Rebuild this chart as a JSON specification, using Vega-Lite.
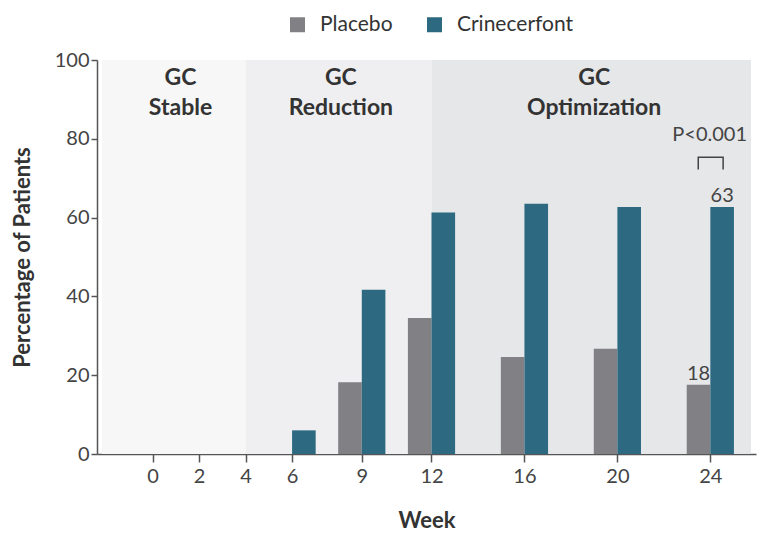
{
  "$schema": "https://vega.github.io/schema/vega-lite/v6.json",
  "width": 659,
  "height": 394,
  "autosize": {"type": "none"},
  "padding": {"left": 97, "top": 60, "right": 1, "bottom": 81},
  "background": "white",
  "config": {
    "font": "Lato",
    "view": {"stroke": null},
    "axis": {
      "grid": false,
      "domainColor": "#555555",
      "domainWidth": 1.5,
      "tickColor": "#555555",
      "tickWidth": 1.5,
      "labelColor": "#444444",
      "labelFontSize": 20,
      "labelFont": "Lato",
      "titleColor": "#333333",
      "titleFontSize": 22,
      "titleFontWeight": "bold",
      "titleFont": "Lato"
    },
    "legend": {"labelFont": "Lato"}
  },
  "datasets": {
    "phases": [
      {"phase": "Stable", "label": ["GC", "Stable"], "start": -2.18, "end": 4, "labelWeek": 1.2},
      {"phase": "Reduction", "label": ["GC", "Reduction"], "start": 4, "end": 12, "labelWeek": 8.1},
      {"phase": "Optimization", "label": ["GC", "Optimization"], "start": 12, "end": 25.75, "labelWeek": 19.0}
    ],
    "bars": [
      {"week": 6, "group": "Placebo", "pct": 0},
      {"week": 6, "group": "Crinecerfont", "pct": 6},
      {"week": 9, "group": "Placebo", "pct": 18.2},
      {"week": 9, "group": "Crinecerfont", "pct": 41.7},
      {"week": 12, "group": "Placebo", "pct": 34.5},
      {"week": 12, "group": "Crinecerfont", "pct": 61.3},
      {"week": 16, "group": "Placebo", "pct": 24.6},
      {"week": 16, "group": "Crinecerfont", "pct": 63.5},
      {"week": 20, "group": "Placebo", "pct": 26.7},
      {"week": 20, "group": "Crinecerfont", "pct": 62.7},
      {"week": 24, "group": "Placebo", "pct": 17.6},
      {"week": 24, "group": "Crinecerfont", "pct": 62.7}
    ],
    "bracket": [
      {"week": 23.48, "pct": 72.2, "order": 1},
      {"week": 23.48, "pct": 75.3, "order": 2},
      {"week": 24.55, "pct": 75.3, "order": 3},
      {"week": 24.55, "pct": 72.2, "order": 4}
    ],
    "pvalue": [{"week": 23.97, "pct": 81, "text": "P<0.001"}]
  },
  "layer": [
    {
      "data": {"name": "phases"},
      "mark": {"type": "rect"},
      "encoding": {
        "x": {
          "field": "start", "type": "quantitative", "title": "Week",
          "scale": {"domain": [-2.18, 25.75], "nice": false, "zero": false},
          "axis": {"values": [0, 2, 4, 6, 9, 12, 16, 20, 24], "tickSize": 8, "labelPadding": 4, "title": "Week", "titlePadding": 24, "labelFlush": false}
        },
        "x2": {"field": "end"},
        "y": {
          "datum": 0, "type": "quantitative", "title": "Percentage of Patients",
          "scale": {"domain": [0, 100], "nice": false},
          "axis": {"values": [0, 20, 40, 60, 80, 100], "tickSize": 6, "labelPadding": 2, "title": "Percentage of Patients", "titlePadding": 20, "labelFlush": false}
        },
        "y2": {"datum": 100},
        "fill": {
          "field": "phase", "type": "nominal", "legend": null,
          "scale": {"domain": ["Stable", "Reduction", "Optimization"], "range": ["#f7f7f7", "#efeff1", "#e6e7e9"]}
        }
      }
    },
    {
      "data": {"name": "phases"},
      "mark": {"type": "text", "baseline": "top", "align": "center", "dy": 7, "fontSize": 23, "fontWeight": "bold", "lineHeight": 30, "color": "#333333"},
      "encoding": {
        "x": {"field": "labelWeek", "type": "quantitative", "title": "Week"},
        "y": {"datum": 100, "type": "quantitative", "title": "Percentage of Patients"},
        "text": {"field": "label"}
      }
    },
    {
      "data": {"name": "bars"},
      "transform": [{"filter": "datum.group == 'Placebo'"}],
      "mark": {"type": "bar", "width": 23.6, "xOffset": -11.8},
      "encoding": {
        "x": {"field": "week", "type": "quantitative", "title": "Week"},
        "y": {"field": "pct", "type": "quantitative", "title": "Percentage of Patients"},
        "color": {
          "field": "group", "type": "nominal",
          "scale": {"domain": ["Placebo", "Crinecerfont"], "range": ["#808085", "#2d6a81"]},
          "legend": {
            "title": null, "orient": "none", "direction": "horizontal",
            "legendX": 190, "legendY": -46,
            "symbolType": "square", "symbolSize": 225, "symbolStrokeWidth": 0,
            "labelFontSize": 21, "labelColor": "#333333", "labelOffset": 12, "columnPadding": 31
          }
        }
      }
    },
    {
      "data": {"name": "bars"},
      "transform": [{"filter": "datum.group == 'Crinecerfont'"}],
      "mark": {"type": "bar", "width": 23.6, "xOffset": 11.8},
      "encoding": {
        "x": {"field": "week", "type": "quantitative", "title": "Week"},
        "y": {"field": "pct", "type": "quantitative", "title": "Percentage of Patients"},
        "color": {"field": "group", "type": "nominal"}
      }
    },
    {
      "data": {"name": "bars"},
      "transform": [{"filter": "datum.week == 24 && datum.group == 'Placebo'"}],
      "mark": {"type": "text", "baseline": "alphabetic", "align": "center", "xOffset": -11.8, "dy": -5, "fontSize": 20, "color": "#444444"},
      "encoding": {
        "x": {"field": "week", "type": "quantitative", "title": "Week"},
        "y": {"field": "pct", "type": "quantitative", "title": "Percentage of Patients"},
        "text": {"field": "pct", "type": "quantitative", "format": ".0f"}
      }
    },
    {
      "data": {"name": "bars"},
      "transform": [{"filter": "datum.week == 24 && datum.group == 'Crinecerfont'"}],
      "mark": {"type": "text", "baseline": "alphabetic", "align": "center", "xOffset": 11.8, "dy": -5, "fontSize": 20, "color": "#444444"},
      "encoding": {
        "x": {"field": "week", "type": "quantitative", "title": "Week"},
        "y": {"field": "pct", "type": "quantitative", "title": "Percentage of Patients"},
        "text": {"field": "pct", "type": "quantitative", "format": ".0f"}
      }
    },
    {
      "data": {"name": "bracket"},
      "mark": {"type": "line", "color": "#444444", "strokeWidth": 1.5},
      "encoding": {
        "x": {"field": "week", "type": "quantitative", "title": "Week"},
        "y": {"field": "pct", "type": "quantitative", "title": "Percentage of Patients"},
        "order": {"field": "order", "type": "quantitative"}
      }
    },
    {
      "data": {"name": "pvalue"},
      "mark": {"type": "text", "baseline": "middle", "align": "center", "fontSize": 20, "color": "#444444"},
      "encoding": {
        "x": {"field": "week", "type": "quantitative", "title": "Week"},
        "y": {"field": "pct", "type": "quantitative", "title": "Percentage of Patients"},
        "text": {"field": "text"}
      }
    }
  ]
}
